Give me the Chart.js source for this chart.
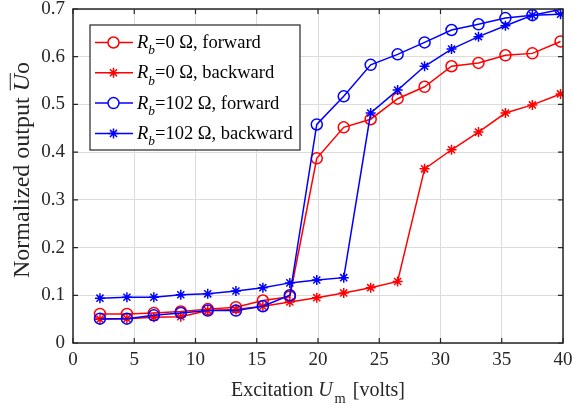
<!DOCTYPE html>
<html>
<head>
<meta charset="utf-8">
<script src="https://cdn.jsdelivr.net/npm/chart.js@4"></script>
<style>
    html, body { margin: 0; padding: 0; background: #fff; }
    #wrap { width: 573px; height: 412px; }
</style>
</head>
<body>
<div id="wrap"><canvas id="chart" width="573" height="412"></canvas></div>
<script>
// excitation voltage (x) and normalized outputs
const excitation = [2.2, 4.4, 6.6, 8.8, 11.0, 13.3, 15.5, 17.7, 19.9, 22.1, 24.3, 26.5, 28.7, 30.9, 33.1, 35.3, 37.5, 39.8]
const redForward = [0.061, 0.061, 0.063, 0.066, 0.071, 0.075, 0.089, 0.097, 0.387, 0.452, 0.469, 0.512, 0.537, 0.580, 0.587, 0.603, 0.607, 0.632]
const redBackward = [0.050, 0.051, 0.054, 0.055, 0.068, 0.070, 0.077, 0.086, 0.095, 0.105, 0.116, 0.129, 0.365, 0.405, 0.442, 0.482, 0.499, 0.522]
const blueForward = [0.051, 0.051, 0.058, 0.063, 0.068, 0.068, 0.077, 0.100, 0.458, 0.517, 0.583, 0.605, 0.630, 0.656, 0.668, 0.681, 0.687, 0.699]
const blueBackward = [0.094, 0.096, 0.096, 0.101, 0.103, 0.109, 0.116, 0.126, 0.132, 0.137, 0.482, 0.530, 0.580, 0.616, 0.642, 0.665, 0.687, 0.689]

const xTicks = [0, 5, 10, 15, 20, 25, 30, 35, 40]
const yTicks = [0, 0.1, 0.2, 0.3, 0.4, 0.5, 0.6, 0.7]

// legend entries: resistance text + direction
const legendRes = ['0', '0', '102', '102']
const legendDir = ['forward', 'backward', 'forward', 'backward']

const FONT = '"Liberation Serif", "Times New Roman", serif'
const RED = '#ff0000'
const BLUE = '#0000ff'

function toPoints(ys) {
    return ys.map((y, i) => ({x: excitation[i], y: y}))
}

function series(label, ys, color, style, order) {
    return {
        label: label,
        data: toPoints(ys),
        borderColor: color,
        borderWidth: 1.5,
        backgroundColor: color,
        pointStyle: style,
        pointRadius: style === 'circle' ? 5.5 : 5,
        pointBorderWidth: 1.5,
        pointBackgroundColor: 'rgba(0,0,0,0)',
        pointBorderColor: color,
        fill: false,
        tension: 0,
        order: order
    }
}

const datasets = [
    series('Rb=0 Ω, forward', redForward, RED, 'circle', 4),
    series('Rb=0 Ω, backward', redBackward, RED, 'star', 3),
    series('Rb=102 Ω, forward', blueForward, BLUE, 'circle', 2),
    series('Rb=102 Ω, backward', blueBackward, BLUE, 'star', 1)
]

// text pieces (italic / subscript / overline / extra gap)
function partFont(p, size) {
    return (p.italic ? 'italic ' : '') + (p.sub ? size * 0.72 : size) + 'px ' + FONT
}

function richWidth(ctx, parts, size) {
    let w = 0
    parts.forEach(p => {
        ctx.font = partFont(p, size)
        w += ctx.measureText(p.text).width + (p.gap || 0)
    })
    return w
}

function drawRich(ctx, parts, x, y, size) {
    ctx.textBaseline = 'alphabetic'
    ctx.textAlign = 'left'
    parts.forEach(p => {
        ctx.font = partFont(p, size)
        const w = ctx.measureText(p.text).width
        ctx.fillText(p.text, x, p.sub ? y + size * 0.35 : y)
        if (p.over) {
            ctx.beginPath()
            ctx.lineWidth = 1
            ctx.moveTo(x + 1, y - size * 0.78)
            ctx.lineTo(x + w + 1, y - size * 0.78)
            ctx.stroke()
        }
        x += w + (p.gap || 0)
    })
}

const decorations = {
    id: 'decorations',
    afterDraw(chart) {
        const ctx = chart.ctx
        const a = chart.chartArea
        const xs = chart.scales.x
        const ys = chart.scales.y
        ctx.save()

        // frame with inward ticks
        ctx.strokeStyle = '#262626'
        ctx.lineWidth = 1.5
        ctx.strokeRect(a.left, a.top, a.right - a.left, a.bottom - a.top)
        ctx.lineWidth = 1.2
        ctx.beginPath()
        xTicks.forEach(t => {
            const px = xs.getPixelForValue(t)
            ctx.moveTo(px, a.bottom); ctx.lineTo(px, a.bottom - 5)
            ctx.moveTo(px, a.top); ctx.lineTo(px, a.top + 5)
        })
        yTicks.forEach(t => {
            const py = ys.getPixelForValue(t)
            ctx.moveTo(a.left, py); ctx.lineTo(a.left + 5, py)
            ctx.moveTo(a.right, py); ctx.lineTo(a.right - 5, py)
        })
        ctx.stroke()

        ctx.fillStyle = '#262626'
        ctx.strokeStyle = '#262626'

        // x axis title
        const xt = [
            {text: 'Excitation '},
            {text: 'U', italic: true, gap: 2},
            {text: 'm', sub: true, gap: 2},
            {text: ' [volts]'}
        ]
        const xw = richWidth(ctx, xt, 20)
        drawRich(ctx, xt, (a.left + a.right) / 2 - xw / 2, 396, 20)

        // y axis title
        const yt = [
            {text: 'Normalized output '},
            {text: 'U', italic: true, over: true},
            {text: 'o'}
        ]
        const yw = richWidth(ctx, yt, 24)
        ctx.save()
        ctx.translate(29, 170)
        ctx.rotate(-Math.PI / 2)
        drawRich(ctx, yt, -yw / 2, 0, 24)
        ctx.restore()

        // legend box
        const lx = 90, ly = 25, lw = 210, lh = 125
        ctx.fillStyle = '#ffffff'
        ctx.fillRect(lx, ly, lw, lh)
        ctx.strokeStyle = '#262626'
        ctx.lineWidth = 1.2
        ctx.strokeRect(lx, ly, lw, lh)

        datasets.forEach((ds, i) => {
            const cy = 42.5 + i * 30.3
            ctx.strokeStyle = ds.borderColor
            ctx.lineWidth = 1.5
            ctx.beginPath()
            ctx.moveTo(95, cy); ctx.lineTo(133, cy)
            ctx.stroke()
            ctx.fillStyle = '#ffffff'
            Chart.helpers.drawPoint(ctx, {
                pointStyle: ds.pointStyle,
                radius: ds.pointRadius,
                rotation: 0,
                borderWidth: 1.5
            }, 113.5, cy)
            ctx.fillStyle = '#000000'
            drawRich(ctx, [
                {text: 'R', italic: true},
                {text: 'b', italic: true, sub: true},
                {text: '=' + legendRes[i] + ' Ω, ' + legendDir[i]}
            ], 137, cy + 5.5, 18.5)
        })

        ctx.restore()
    }
}

function noOverflow(scale) {
    scale.paddingTop = 0
    scale.paddingBottom = 0
    scale.paddingLeft = 0
    scale.paddingRight = 0
}

new Chart(document.getElementById('chart'), {
    type: 'line',
    data: {datasets: datasets},
    options: {
        responsive: false,
        animation: false,
        layout: {padding: {left: 0, top: 9, right: 10, bottom: 0}},
        plugins: {
            legend: {display: false},
            tooltip: {enabled: false}
        },
        scales: {
            x: {
                type: 'linear',
                min: 0,
                max: 40,
                afterFit: (scale) => { scale.height = 69; noOverflow(scale) },
                afterBuildTicks: (scale) => { scale.ticks = xTicks.map(v => ({value: v})) },
                grid: {color: '#dcdcdc', lineWidth: 1, drawTicks: false},
                border: {display: false},
                ticks: {
                    color: '#262626',
                    padding: 6,
                    maxRotation: 0,
                    font: {family: FONT, size: 19}
                }
            },
            y: {
                min: 0,
                max: 0.7,
                afterFit: (scale) => { scale.width = 73; noOverflow(scale) },
                afterBuildTicks: (scale) => { scale.ticks = yTicks.map(v => ({value: v})) },
                grid: {color: '#dcdcdc', lineWidth: 1, drawTicks: false},
                border: {display: false},
                ticks: {
                    color: '#262626',
                    padding: 8,
                    font: {family: FONT, size: 19},
                    callback: (v) => String(Math.round(v * 10) / 10)
                }
            }
        }
    },
    plugins: [decorations]
})
</script>
</body>
</html>
